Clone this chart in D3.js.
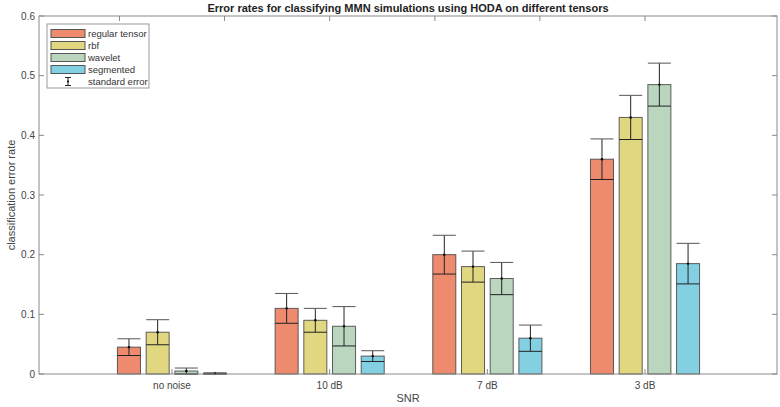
<!DOCTYPE html>
<html>
<head>
<meta charset="utf-8">
<script src="https://cdn.jsdelivr.net/npm/d3@7"></script>
<style>
body { margin: 0; background: #fff; }
text { font-family: "Liberation Sans", Arial, sans-serif; }
</style>
</head>
<body>
<div id="chart"></div>
<script>
// values
const categories = ["no noise", "10 dB", "7 dB", "3 dB"];
const seriesNames = ["regular tensor", "rbf", "wavelet", "segmented"];
const regular = [0.045, 0.11, 0.20, 0.36];
const rbf = [0.07, 0.09, 0.18, 0.43];
const wavelet = [0.005, 0.08, 0.16, 0.485];
const segmented = [0.001, 0.03, 0.06, 0.185];
const regularSE = [0.014, 0.025, 0.0325, 0.034];
const rbfSE = [0.021, 0.02, 0.026, 0.037];
const waveletSE = [0.005, 0.033, 0.027, 0.036];
const segmentedSE = [0.001, 0.009, 0.022, 0.034];
const yTicks = [0, 0.1, 0.2, 0.3, 0.4, 0.5, 0.6];
const topTicks = [0.667, 1.333, 2, 2.667, 3.333, 4];

const colors = ["#ee8a6e", "#e0d780", "#bad6bf", "#83d0e3"];
const values = [regular, rbf, wavelet, segmented];
const errors = [regularSE, rbfSE, waveletSE, segmentedSE];

const width = 780, height = 407;
const mLeft = 39, mRight = 777, mTop = 16, mBottom = 374;

const svg = d3.select("#chart").append("svg")
	.attr("width", width)
	.attr("height", height);

const x = d3.scaleLinear().domain([0.1565, 4.837]).range([mLeft, mRight]);
const y = d3.scaleLinear().domain([0, 0.6]).range([mBottom, mTop]);

const pitch = 0.182, barW = 0.146;
const pxW = x(barW) - x(0);

// bars
values.forEach((vals, s) => {
	const g = svg.append("g");
	g.selectAll("rect")
		.data(vals)
		.enter()
		.append("rect")
		.attr("x", (d, i) => x(i + 1 + (s - 1.5) * pitch - barW / 2))
		.attr("y", d => y(d))
		.attr("width", pxW)
		.attr("height", d => y(0) - y(d))
		.attr("fill", colors[s])
		.attr("stroke", "#444")
		.attr("stroke-opacity", 0.85)
		.attr("stroke-width", 1);
});

// error bars
values.forEach((vals, s) => {
	const g = svg.append("g").attr("stroke", "#222").attr("stroke-width", 1);
	vals.forEach((v, i) => {
		const cx = x(i + 1 + (s - 1.5) * pitch);
		const e = errors[s][i];
		const hi = y(v + e), lo = y(Math.max(0, v - e));
		g.append("line").attr("x1", cx).attr("x2", cx).attr("y1", hi).attr("y2", lo);
		g.append("line").attr("x1", cx - pxW / 2).attr("x2", cx + pxW / 2).attr("y1", hi).attr("y2", hi).attr("stroke", "#555");
		g.append("line").attr("x1", cx - pxW / 2).attr("x2", cx + pxW / 2).attr("y1", lo).attr("y2", lo);
		svg.append("circle").attr("cx", cx).attr("cy", y(v)).attr("r", 1.2).attr("fill", "#000");
	});
});

// axes box
const axisColor = "#8a8a8a";
svg.append("rect")
	.attr("x", mLeft).attr("y", mTop)
	.attr("width", mRight - mLeft).attr("height", mBottom - mTop)
	.attr("fill", "none").attr("stroke", axisColor).attr("stroke-width", 1);

// y ticks
const yt = svg.append("g");
yTicks.forEach(t => {
	yt.append("line").attr("x1", mLeft).attr("x2", mLeft + 5).attr("y1", y(t)).attr("y2", y(t)).attr("stroke", axisColor);
	yt.append("line").attr("x1", mRight).attr("x2", mRight - 5).attr("y1", y(t)).attr("y2", y(t)).attr("stroke", axisColor);
	yt.append("text").attr("x", mLeft - 4).attr("y", y(t) + 3.5)
		.attr("text-anchor", "end").attr("font-size", 10).attr("fill", "#444")
		.text(t);
});

// x ticks
categories.forEach((c, i) => {
	svg.append("line").attr("x1", x(i + 1)).attr("x2", x(i + 1)).attr("y1", mBottom).attr("y2", mBottom - 5).attr("stroke", axisColor);
	svg.append("text").attr("x", x(i + 1)).attr("y", mBottom + 15)
		.attr("text-anchor", "middle").attr("font-size", 10).attr("fill", "#444")
		.text(c);
});
topTicks.forEach(t => {
	svg.append("line").attr("x1", x(t)).attr("x2", x(t)).attr("y1", mTop).attr("y2", mTop + 5).attr("stroke", axisColor);
});

// labels
svg.append("text").attr("x", (mLeft + mRight) / 2).attr("y", 12)
	.attr("text-anchor", "middle").attr("font-size", 11).attr("font-weight", "bold").attr("fill", "#222")
	.text("Error rates for classifying MMN simulations using HODA on different tensors");
svg.append("text").attr("x", (mLeft + mRight) / 2).attr("y", 402)
	.attr("text-anchor", "middle").attr("font-size", 11).attr("fill", "#444")
	.text("SNR");
svg.append("text").attr("transform", `translate(15,${(mTop + mBottom) / 2}) rotate(-90)`)
	.attr("text-anchor", "middle").attr("font-size", 11).attr("fill", "#444")
	.text("classification error rate");

// legend
const lg = svg.append("g").attr("transform", "translate(47,24)");
lg.append("rect").attr("width", 102).attr("height", 64)
	.attr("fill", "#fff").attr("stroke", "#999");
seriesNames.forEach((n, i) => {
	const cy = 9.5 + i * 12;
	lg.append("rect").attr("x", 4).attr("y", cy - 4).attr("width", 34).attr("height", 8)
		.attr("fill", colors[i]).attr("stroke", "#555");
	lg.append("text").attr("x", 41).attr("y", cy + 3.5).attr("font-size", 9.5).attr("fill", "#333").text(n);
});
const ey = 9.5 + 4 * 12;
lg.append("line").attr("x1", 21).attr("x2", 21).attr("y1", ey - 4).attr("y2", ey + 4).attr("stroke", "#222");
lg.append("line").attr("x1", 18).attr("x2", 24).attr("y1", ey - 4).attr("y2", ey - 4).attr("stroke", "#222");
lg.append("line").attr("x1", 18).attr("x2", 24).attr("y1", ey + 4).attr("y2", ey + 4).attr("stroke", "#222");
lg.append("circle").attr("cx", 21).attr("cy", ey).attr("r", 1).attr("fill", "#000");
lg.append("text").attr("x", 41).attr("y", ey + 3.5).attr("font-size", 9.5).attr("fill", "#333").text("standard error");
</script>
</body>
</html>
